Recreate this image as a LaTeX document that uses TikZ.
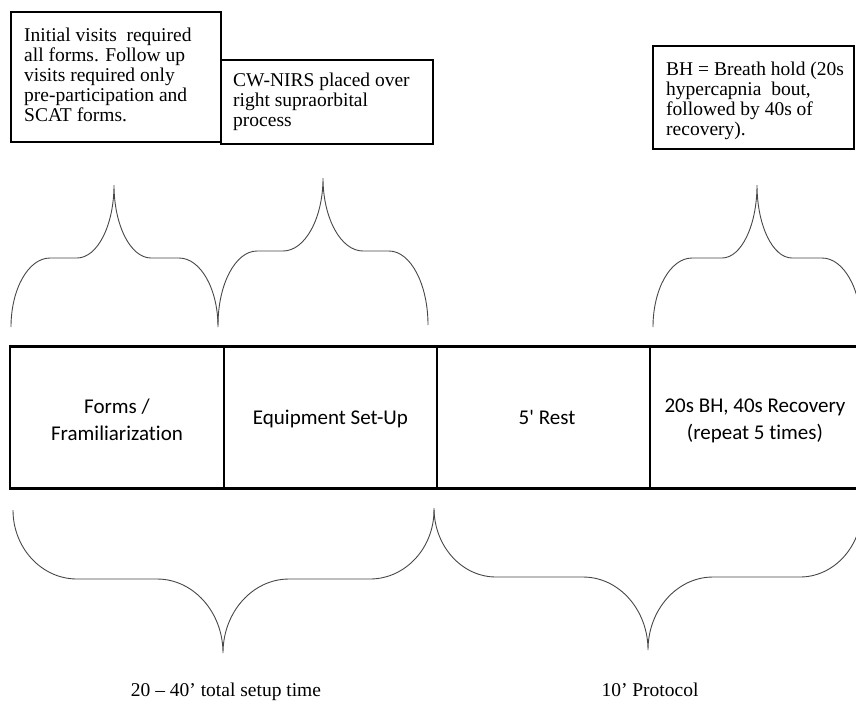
\documentclass[tikz,border=0pt]{standalone}
\usepackage{fontspec}
\setmainfont{Liberation Serif}
\newfontfamily\calfont[Ligatures={TeX,NoCommon}]{Carlito}
\newcommand{\mybrace}[8]{% xl xm xr yend yflat ytip endw tipw
  \draw[bracestyle] (#1,#4)
    .. controls (#1,{#4+0.552*(#5-#4)}) and ({#1+#7-0.552*#7},#5) .. ({#1+#7},#5)
    -- ({#2-#8},#5)
    .. controls ({#2-#8+0.552*#8},#5) and (#2,{#6+0.552*(#5-#6)}) .. (#2,#6)
    .. controls (#2,{#6+0.552*(#5-#6)}) and ({#2+#8-0.552*#8},#5) .. ({#2+#8},#5)
    -- ({#3-#7},#5)
    .. controls ({#3-#7+0.552*#7},#5) and (#3,{#5+0.448*(#4-#5)}) .. (#3,#4);}
\begin{document}
\begin{tikzpicture}[x=1pt,y=-1pt,
  notebox/.style={draw, line width=1.5pt, anchor=north west, inner sep=0pt},
  notetext/.style={anchor=west, align=left, inner sep=0pt, font=\fontsize{19.5}{20}\selectfont},
  celltext/.style={align=center, inner sep=0pt, font=\calfont\fontsize{21}{27}\selectfont},
  bracestyle/.style={line width=0.9pt, black!72},
  bottomlabel/.style={anchor=base, inner sep=0pt, font=\fontsize{19.5}{20}\selectfont}]
\clip (0,0) rectangle (856,705);
\fill[white] (0,0) rectangle (856,705);

% note boxes
\node[notebox, minimum width=210pt, minimum height=130pt] (b1) at (10,11) {};
\node[notetext] (t1) at ([xshift=14pt,yshift=2pt]b1.west) {Initial visits\ \ required\\all forms. Follow up\\visits required only\\pre-participation and\\SCAT forms.};
\node[notebox, minimum width=212pt, minimum height=84pt] (b2) at (220,59) {};
\node[notetext] (t2) at ([xshift=13pt]b2.west) {CW-NIRS placed over\\right supraorbital\\process};
\node[notebox, minimum width=201pt, minimum height=103pt] (b3) at (652,45) {};
\node[notetext] (t3) at ([xshift=14pt,yshift=-4pt]b3.west) {BH = Breath hold (20s\\hypercapnia\ \ bout,\\followed by 40s of\\recovery).};

% upper braces
\mybrace{11}{114}{218}{327}{258}{185}{39}{37}
\mybrace{218}{323}{428}{325}{251}{178}{39}{40}
\mybrace{653}{757}{861}{327}{258}{185}{39}{35}

% table
\draw[line width=3pt] (10,346) -- (856,346);
\draw[line width=3pt] (10,488) -- (856,488);
\draw[line width=2.5pt] (10,344.5) -- (10,489.5);
\draw[line width=1.3pt] (224,346) -- (224,488);
\draw[line width=1.3pt] (437,346) -- (437,488);
\draw[line width=1.3pt] (650,346) -- (650,488);
\node[celltext] (c1) at (117,420) {Forms /\\Framiliarization};
\node[celltext] (c2) at (330.5,419) {Equipment Set-Up};
\node[celltext] (c3) at (547,417.5) {5\textquotesingle{} Rest};
\node[celltext] (c4) at (755,421) {20s BH, 40s Recovery\\(repeat 5 times)};

% lower braces
\mybrace{13}{223}{434}{510}{579}{653}{64}{66}
\mybrace{434}{648}{862}{508}{577}{650}{62}{65}

% bottom labels
\node[bottomlabel] (l1) at (226,696) {20 – 40’ total setup time};
\node[bottomlabel] (l2) at (650,696) {10’ Protocol};
\end{tikzpicture}
\end{document}
